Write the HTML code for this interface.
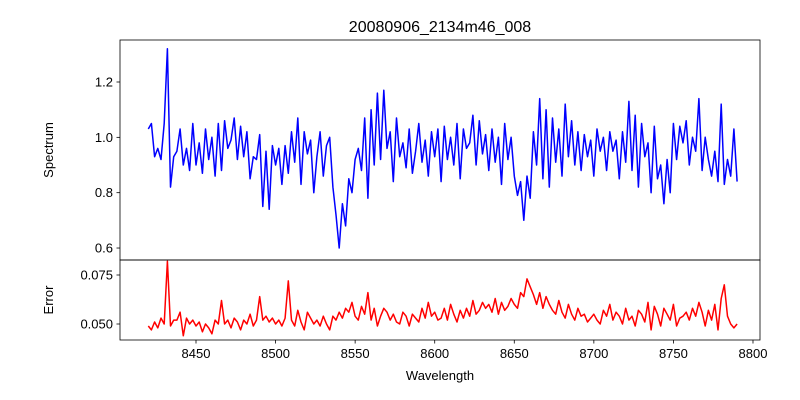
<!DOCTYPE html>
<html><head><meta charset="utf-8"><style>
body{margin:0;background:#fff}
svg{display:block;font-family:"Liberation Sans","DejaVu Sans",sans-serif}
</style></head><body>
<svg id="chart" width="800" height="400" viewBox="0 0 800 400">
<text x="440" y="32" font-size="16" text-anchor="middle">20080906_2134m46_008</text>
<g id="topPanel"></g>
<g id="botPanel"></g>
<text transform="translate(53,150) rotate(-90)" font-size="13" text-anchor="middle">Spectrum</text>
<text transform="translate(53,300) rotate(-90)" font-size="13" text-anchor="middle">Error</text>
<text x="440" y="380" font-size="13" text-anchor="middle">Wavelength</text>
</svg>
<script>
const wlStart = 8420, wlStep = 2;
const spectrum = [1.03,1.05,0.93,0.96,0.92,1.05,0.82,1.32,0.93,0.95,1.03,
0.90,0.96,0.88,1.05,0.90,0.98,0.87,1.03,0.92,1.00,0.86,1.05,0.88,1.06,0.96,
0.99,1.07,0.92,1.04,0.93,1.02,0.85,0.93,0.92,1.01,0.75,0.95,0.74,0.97,0.90,
0.96,0.83,0.97,0.87,1.02,0.91,1.07,0.83,1.02,0.94,0.99,0.80,0.93,1.02,0.86,
0.97,1.00,0.82,0.72,0.60,0.76,0.68,0.85,0.80,0.92,0.96,0.88,1.07,0.78,1.10,
0.90,1.16,0.92,1.17,0.96,1.02,0.84,1.07,0.93,0.98,0.89,1.03,0.87,0.95,1.05,
0.91,0.99,0.86,1.02,0.93,1.03,0.84,1.04,0.92,1.00,0.90,1.05,0.85,1.03,0.96,
0.98,1.08,0.90,1.06,0.94,1.01,0.88,1.03,0.91,1.00,0.83,1.05,0.92,1.00,0.86,
0.79,0.84,0.70,0.86,0.78,1.02,0.90,1.14,0.85,1.10,0.82,1.07,0.91,1.03,0.86,
1.12,0.93,1.06,0.90,1.02,0.88,1.01,0.93,0.99,0.86,1.03,0.95,1.00,0.88,1.02,
0.95,0.99,0.85,1.02,0.91,1.13,0.88,1.08,0.82,1.05,0.93,0.98,0.80,1.04,0.85,
0.90,0.76,0.92,0.80,1.05,0.92,1.04,0.98,1.06,0.90,1.00,0.95,1.14,0.88,1.00,
0.92,0.86,0.95,0.84,1.12,0.83,0.92,0.86,1.03,0.84];
spectrum[5]=1.05; spectrum[6]=1.32; spectrum[7]=0.82;
const errorVals = [.049,.047,.051,.048,.053,.050,.082,.049,.052,.052,.056,
.044,.053,.050,.052,.049,.051,.046,.050,.048,.045,.052,.050,.062,.050,.052,
.048,.053,.051,.047,.052,.050,.055,.049,.052,.064,.052,.054,.051,.053,.050,
.052,.049,.053,.072,.052,.049,.057,.051,.047,.056,.053,.050,.052,.049,.054,
.050,.047,.054,.052,.056,.053,.058,.056,.061,.054,.052,.059,.055,.066,.052,
.058,.049,.054,.058,.056,.052,.055,.051,.050,.056,.054,.049,.055,.053,.051,
.058,.053,.061,.054,.056,.052,.053,.058,.052,.060,.055,.051,.057,.053,.058,
.054,.062,.055,.057,.061,.058,.060,.056,.063,.055,.061,.057,.059,.063,.060,
.058,.066,.064,.073,.069,.065,.060,.066,.058,.064,.060,.057,.055,.062,.056,
.053,.060,.055,.052,.058,.054,.055,.051,.053,.055,.052,.050,.057,.054,.060,
.052,.056,.054,.050,.058,.052,.054,.049,.057,.055,.051,.061,.047,.059,.055,
.049,.058,.055,.052,.060,.049,.053,.054,.056,.052,.058,.054,.061,.056,.049,
.057,.052,.060,.047,.063,.070,.054,.050,.048,.050];
const xTicks = [8450,8500,8550,8600,8650,8700,8750,8800];
const specTicks = [0.6,0.8,1.0,1.2];
const errTicks = [0.050,0.075];

const NS="http://www.w3.org/2000/svg";
const X0=120,X1=760;
const xs = w => 196 + (w-8450)*1.5914;
const ys = v => 82 + (1.2-v)*276.7;
const ye = v => 324 - (v-0.05)*1960;
function mk(tag, attrs, parent){const e=document.createElementNS(NS,tag);for(const k in attrs)e.setAttribute(k,attrs[k]);parent.appendChild(e);return e;}
const topG=document.getElementById('topPanel'), botG=document.getElementById('botPanel');

function panel(g, yT, yB, data, yf, color, ticks, fmt, showX, nm, clip){
  const pts = data.map((v,i)=>xs(wlStart+i*wlStep).toFixed(1)+','+yf(v).toFixed(1)).join(' ');
  const line = mk('polyline',{points:pts,fill:'none',stroke:color,'stroke-width':1.5,'stroke-linejoin':'round','clip-path':clip},g);
  
  
  ticks.forEach(t=>{
    const y=yf(t);
    const tk=mk('line',{x1:X0-3.5,x2:X0,y1:y,y2:y,stroke:'#000','stroke-width':0.8},g);
    
    
    const tl=mk('text',{x:X0-7,y:y+4.5,'font-size':13,'text-anchor':'end'},g);
    tl.textContent=fmt(t);
    
    
  });
  if(showX){
    xTicks.forEach(t=>{
      const x=xs(t);
      const tk=mk('line',{x1:x,x2:x,y1:yB,y2:yB+3.5,stroke:'#000','stroke-width':0.8},g);
      
      
      const tl=mk('text',{x:x,y:yB+18,'font-size':13,'text-anchor':'middle'},g);
      tl.textContent=t;
      
      
    });
  }
  const fr=mk('rect',{x:X0,y:yT,width:X1-X0,height:yB-yT,fill:'none',stroke:'#000','stroke-width':0.8},g);
  
  
}
const defs=mk('defs',{},document.getElementById('chart'));
const c1=mk('clipPath',{id:'c1'},defs); mk('rect',{x:X0,y:40,width:X1-X0,height:220},c1);
const c2=mk('clipPath',{id:'c2'},defs); mk('rect',{x:X0,y:260,width:X1-X0,height:80},c2);
panel(topG,40,260,spectrum,ys,'#0000ff',specTicks,t=>t.toFixed(1),false,'spectrum','url(#c1)');
panel(botG,260,340,errorVals,ye,'#ff0000',errTicks,t=>t.toFixed(3),true,'error','url(#c2)');
</script>
</body></html>
